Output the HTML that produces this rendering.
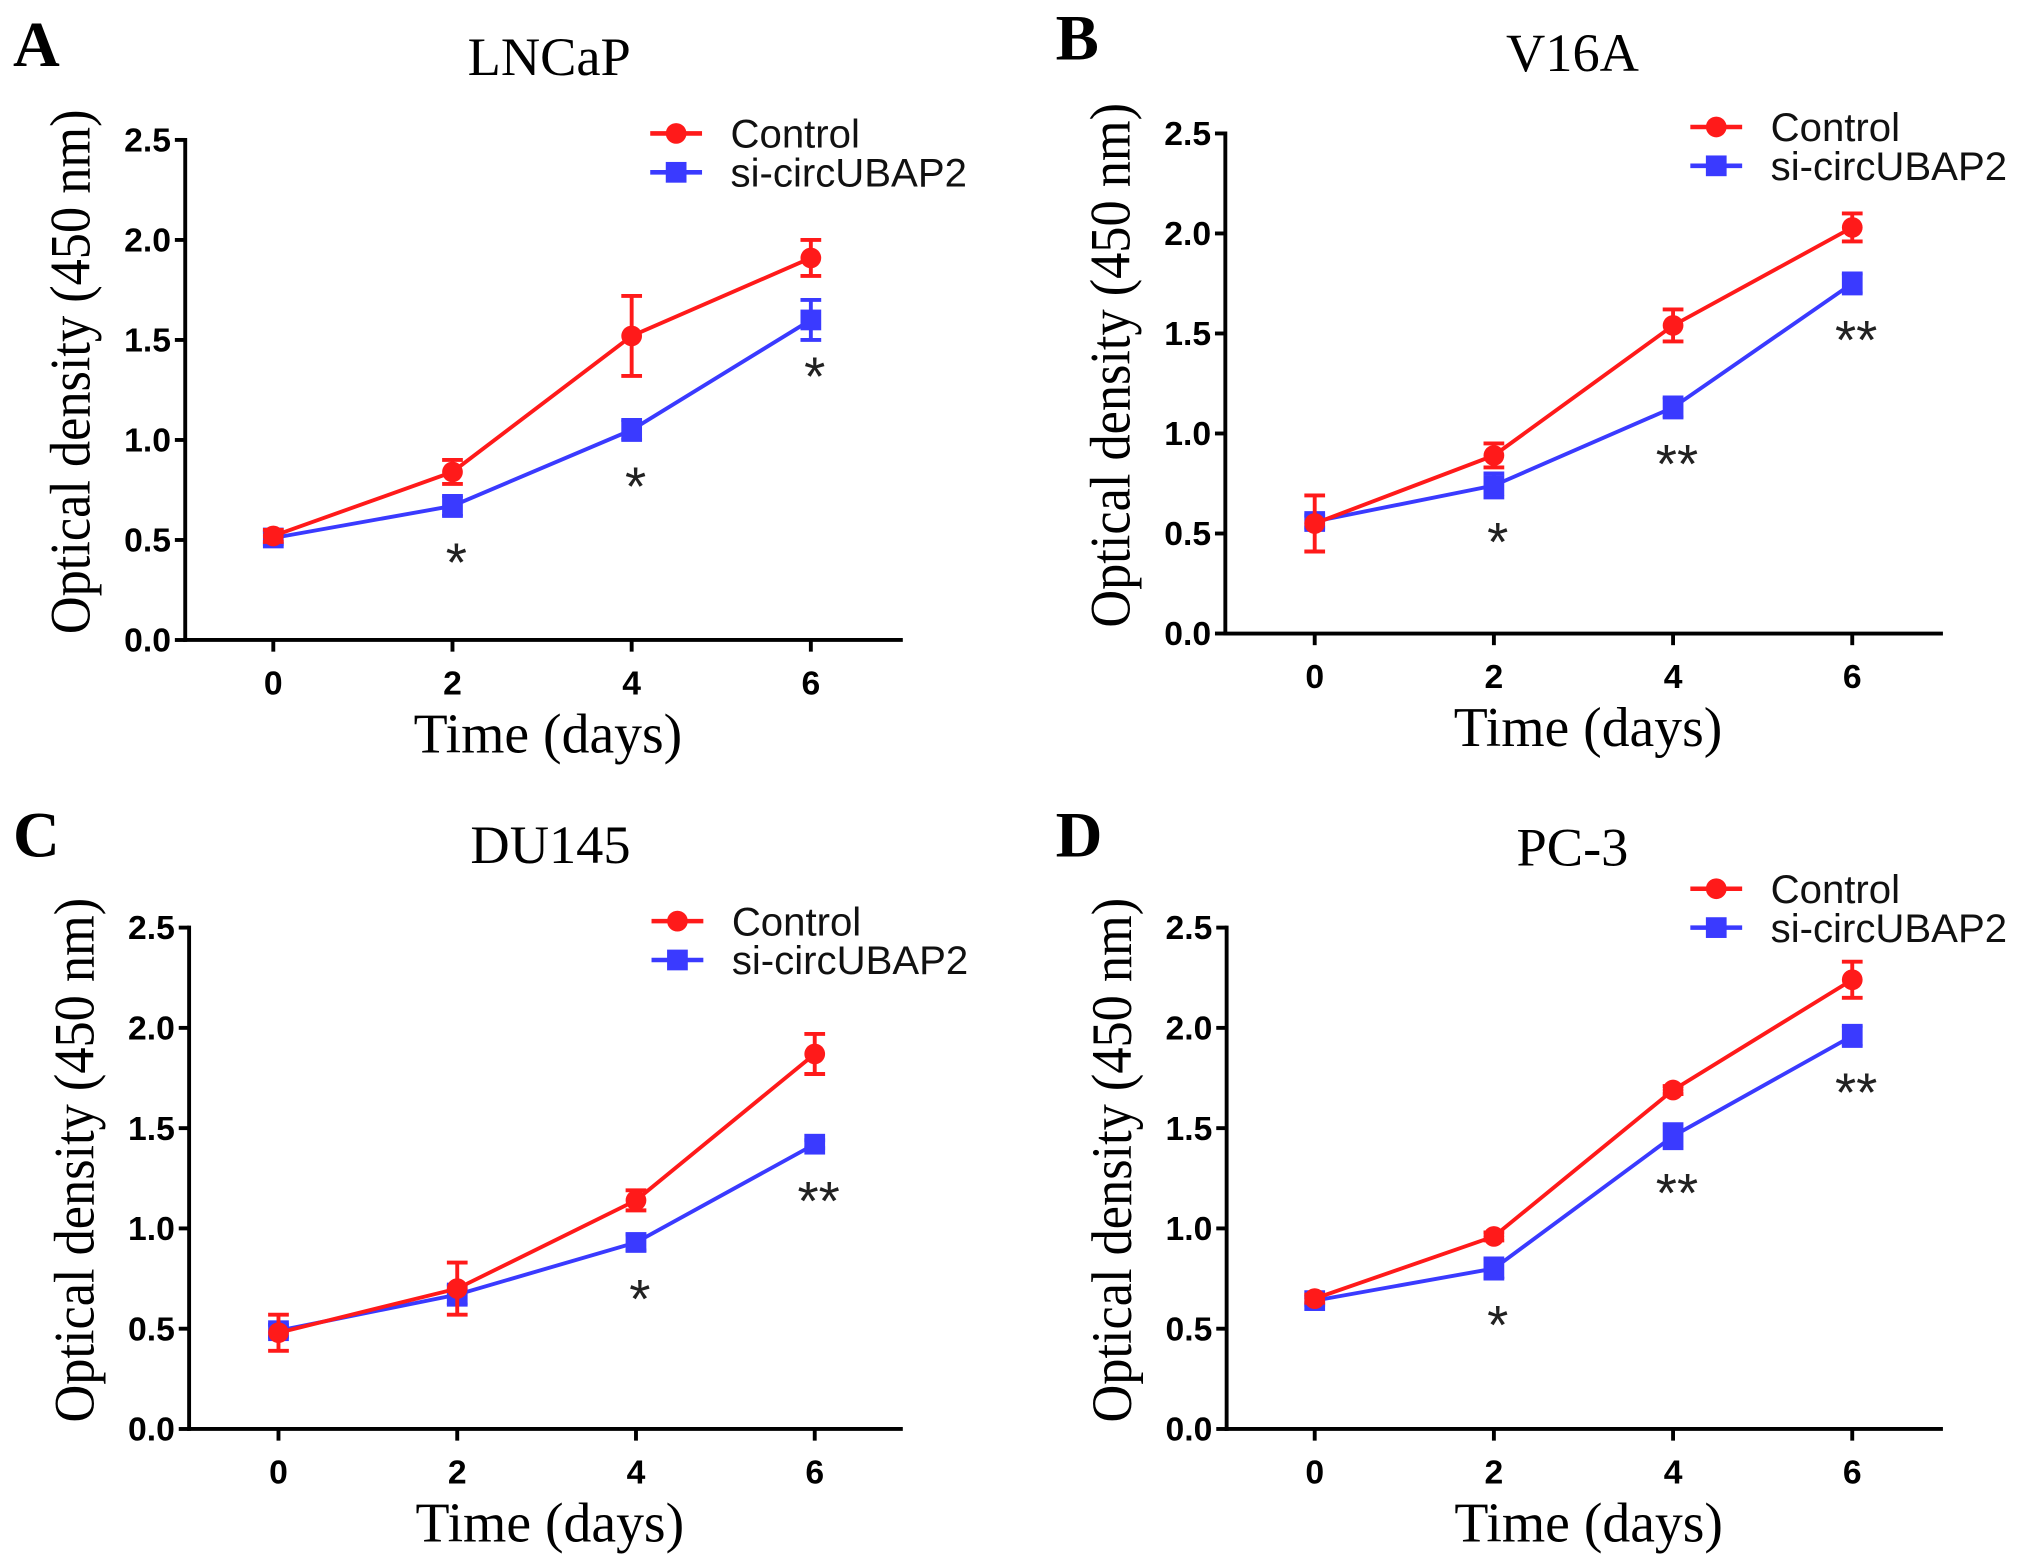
<!DOCTYPE html>
<html><head><meta charset="utf-8"><style>
html,body{margin:0;padding:0;background:#fff;}
svg{display:block;}
</style></head><body>
<svg id="fig" width="2031" height="1565" viewBox="0 0 1568 1208" preserveAspectRatio="none" xmlns="http://www.w3.org/2000/svg"></svg>
<script>
const days = [0, 2, 4, 6];
const yTicks = [0, 0.5, 1.0, 1.5, 2.0, 2.5];
const yTickLabels = ["0.0", "0.5", "1.0", "1.5", "2.0", "2.5"];
const panelTitles = ["LNCaP", "V16A", "DU145", "PC-3"];
const panelLetters = ["A", "B", "C", "D"];
const ctrlA = [0.52, 0.84, 1.52, 1.91];
const ctrlErrA = [0.03, 0.06, 0.2, 0.09];
const siA = [0.51, 0.67, 1.05, 1.60];
const siErrA = [0.03, 0.05, 0.05, 0.1];
const starsA = ["", "*", "*", "*"];
const ctrlB = [0.55, 0.89, 1.54, 2.03];
const ctrlErrB = [0.14, 0.06, 0.08, 0.07];
const siB = [0.56, 0.74, 1.13, 1.75];
const siErrB = [0.03, 0.06, 0.05, 0.05];
const starsB = ["", "*", "**", "**"];
const ctrlC = [0.48, 0.70, 1.14, 1.87];
const ctrlErrC = [0.09, 0.13, 0.05, 0.1];
const siC = [0.49, 0.67, 0.93, 1.42];
const siErrC = [0.03, 0.05, 0.04, 0.02];
const starsC = ["", "", "*", "**"];
const ctrlD = [0.65, 0.96, 1.69, 2.24];
const ctrlErrD = [0.02, 0.02, 0.02, 0.09];
const siD = [0.64, 0.80, 1.46, 1.96];
const siErrD = [0.02, 0.05, 0.06, 0.05];
const starsD = ["", "*", "**", "**"];

const NS = "http://www.w3.org/2000/svg";
const svg = document.getElementById('fig');
function mk(tag, attrs, parent, text) {
  const e = document.createElementNS(NS, tag);
  for (const k in attrs) e.setAttribute(k, attrs[k]);
  if (text !== undefined) e.textContent = text;
  (parent || svg).appendChild(e);
  return e;
}
const layouts = [
  {ax:143, ay:494, top:108, x0:211, x6:626, xend:697, lx:502, ly:103, letX:10, letY:51, titleY:58, tx:424},
  {ax:946, ay:489, top:103, x0:1015, x6:1430, xend:1500, lx:1305, ly:98, letX:815, letY:46, titleY:55, tx:1214},
  {ax:146, ay:1103, top:716, x0:215, x6:629, xend:697, lx:503, ly:711, letX:10, letY:661, titleY:666, tx:425},
  {ax:947, ay:1103, top:716, x0:1015, x6:1430, xend:1500, lx:1305, ly:686, letX:815, letY:661, titleY:668, tx:1214}
];
const ctrls = [ctrlA, ctrlB, ctrlC, ctrlD];
const ctrlErrs = [ctrlErrA, ctrlErrB, ctrlErrC, ctrlErrD];
const sis = [siA, siB, siC, siD];
const siErrs = [siErrA, siErrB, siErrC, siErrD];
const stars = [starsA, starsB, starsC, starsD];
const RED = "#ff1a1a", BLUE = "#3a3aff";

layouts.forEach((L, p) => {
  const g = mk('g', {});
  
  
  const xs = d => L.x0 + (d / 6) * (L.x6 - L.x0);
  const ys = v => L.ay - (v / 2.5) * (L.ay - L.top);
  const cx = (L.ax + L.xend) / 2 + 3;

  const letter = mk('text', {x:L.letX, y:L.letY, 'font-family':'Liberation Serif, serif', 'font-weight':'bold', 'font-size':50}, g, panelLetters[p]);
  
  
  const title = mk('text', {x:L.tx, y:L.titleY, 'text-anchor':'middle', 'font-family':'Liberation Serif, serif', 'font-size':42}, g, panelTitles[p]);
  
  

  const yax = mk('line', {x1:L.ax, y1:L.top - 1.5, x2:L.ax, y2:L.ay + 1.5, stroke:'#000', 'stroke-width':3}, g);
  
  
  const xax = mk('line', {x1:L.ax - 1.5, y1:L.ay, x2:L.xend, y2:L.ay, stroke:'#000', 'stroke-width':3}, g);
  
  
  yTicks.forEach((t, i) => {
    mk('line', {x1:L.ax - 8, y1:ys(t), x2:L.ax, y2:ys(t), stroke:'#000', 'stroke-width':3}, g);
    const tl = mk('text', {x:L.ax - 11, y:ys(t) + 9, 'text-anchor':'end', 'font-family':'Liberation Sans, sans-serif', 'font-weight':'bold', 'font-size':26}, g, yTickLabels[i]);
    
    
  });
  days.forEach(d => {
    mk('line', {x1:xs(d), y1:L.ay, x2:xs(d), y2:L.ay + 9, stroke:'#000', 'stroke-width':3}, g);
    const tl = mk('text', {x:xs(d), y:L.ay + 42, 'text-anchor':'middle', 'font-family':'Liberation Sans, sans-serif', 'font-weight':'bold', 'font-size':26}, g, String(d));
    
    
  });
  const xt = mk('text', {x:cx, y:L.ay + 87, 'text-anchor':'middle', 'font-family':'Liberation Serif, serif', 'font-size':43}, g, 'Time (days)');
  
  
  const ymid = (L.top + L.ay) / 2 - 14;
  const yt = mk('text', {x:0, y:0, transform:`translate(${L.ax - 74},${ymid}) rotate(-90)`, 'text-anchor':'middle', 'font-family':'Liberation Serif, serif', 'font-size':44, textLength:405, lengthAdjust:'spacingAndGlyphs'}, g, 'Optical density (450  nm)');
  
  

  function series(vals, errs, color, isSquare, name) {
    const sg = mk('g', {}, g);
    
    
    mk('polyline', {points: days.map((d, i) => xs(d) + ',' + ys(vals[i])).join(' '), fill:'none', stroke:color, 'stroke-width':3}, sg);
    days.forEach((d, i) => {
      const x = xs(d), y1 = ys(vals[i] + errs[i]), y2 = ys(vals[i] - errs[i]);
      mk('line', {x1:x, y1:y1, x2:x, y2:y2, stroke:color, 'stroke-width':3}, sg);
      mk('line', {x1:x - 8, y1:y1, x2:x + 8, y2:y1, stroke:color, 'stroke-width':3}, sg);
      mk('line', {x1:x - 8, y1:y2, x2:x + 8, y2:y2, stroke:color, 'stroke-width':3}, sg);
      let m;
      if (isSquare) m = mk('rect', {x:x - 8, y:ys(vals[i]) - 8, width:16, height:16, fill:color}, sg);
      else m = mk('circle', {cx:x, cy:ys(vals[i]), r:8, fill:color}, sg);
      
      
    });
  }
  series(sis[p], siErrs[p], BLUE, true, 'si-circubap2-series');
  series(ctrls[p], ctrlErrs[p], RED, false, 'control-series');

  days.forEach((d, i) => {
    const s = stars[p][i];
    if (!s) return;
    const st = mk('text', {x:xs(d) + 3, y:ys(sis[p][i]) + 58, 'text-anchor':'middle', 'font-family':'Liberation Sans, sans-serif', 'font-size':42, fill:'#222'}, g, s);
    
    
  });

  const lg = mk('g', {}, g);
  
  
  [[RED, false, 'Control', 0], [BLUE, true, 'si-circUBAP2', 30]].forEach(([c, sq, lab, dy]) => {
    const e = mk('g', {}, lg);
    
    
    const y = L.ly + dy;
    mk('line', {x1:L.lx, y1:y, x2:L.lx + 40, y2:y, stroke:c, 'stroke-width':3.5}, e);
    if (sq) mk('rect', {x:L.lx + 12, y:y - 8, width:16, height:16, fill:c}, e);
    else mk('circle', {cx:L.lx + 20, cy:y, r:8, fill:c}, e);
    mk('text', {x:L.lx + 62, y:y + 11, 'font-family':'Liberation Sans, sans-serif', 'font-size':31, fill:'#111'}, e, lab);
  });
});
</script>
</body></html>
